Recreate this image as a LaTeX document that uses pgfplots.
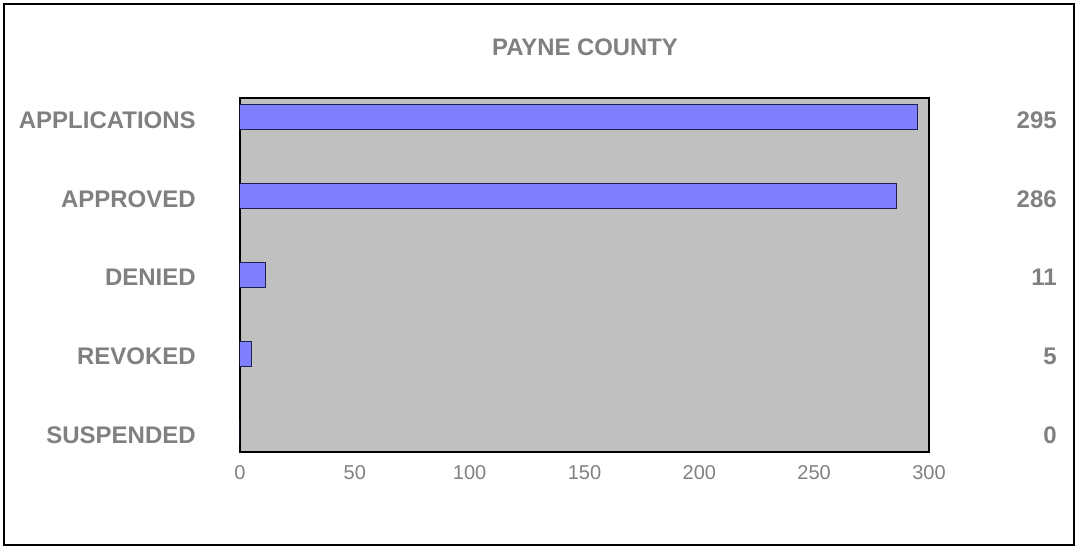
\documentclass[border=0pt]{standalone}
\usepackage{pgfplots}
\pgfplotsset{compat=1.18}
\usepackage{fontspec}
\setmainfont{Liberation Sans}
\definecolor{txtgray}{HTML}{808080}
\definecolor{plotbg}{HTML}{C0C0C0}
\definecolor{barfill}{HTML}{8080FF}
\definecolor{barline}{HTML}{202050}
\begin{document}
\begin{tikzpicture}
\path[use as bounding box] (0,0) rectangle (808.5pt,411pt);
\draw[line width=1.9pt] (3pt,2.25pt) rectangle (805.5pt,408pt);
\node[text=txtgray, font=\fontsize{17.9}{20}\selectfont\bfseries] at (438.75pt,375.9pt) {PAYNE COUNTY};
\begin{axis}[
  at={(180pt,72pt)}, anchor=south west,
  scale only axis, width=516.75pt, height=265.5pt,
  xbar, bar width=18.75pt,
  xmin=0, xmax=300,
  ymin=-0.247, ymax=4.247, y dir=reverse,
  ytick={0,1,2,3,4},
  yticklabels={APPLICATIONS,APPROVED,DENIED,REVOKED,SUSPENDED},
  xtick={0,50,100,150,200,250,300},
  major tick length=0pt,
  axis line style={line width=1pt},
  axis background/.style={fill=plotbg},
  /pgf/number format/assume math mode=true,
  yticklabel style={anchor=east, inner sep=0pt, xshift=-33pt, yshift=-2pt, text=txtgray, font=\fontsize{18}{20}\selectfont\bfseries},
  xticklabel style={anchor=center, inner sep=0pt, yshift=-15.4pt, text=txtgray, font=\fontsize{15}{17}\selectfont},
]
\addplot[fill=barfill, draw=barline, line width=0.75pt] coordinates {(295,0) (286,1) (11,2) (5,3) (0,4)};
\end{axis}
\begin{axis}[
  at={(180pt,72pt)}, anchor=south west,
  scale only axis, width=516.75pt, height=265.5pt,
  xmin=0, xmax=300,
  ymin=-0.247, ymax=4.247, y dir=reverse,
  hide x axis,
  axis y line*=right,
  axis line style={draw=none},
  ytick={0,1,2,3,4},
  yticklabels={295,286,11,5,0},
  major tick length=0pt,
  yticklabel style={anchor=east, inner sep=0pt, xshift=96pt, yshift=-2pt, text=txtgray, font=\fontsize{18}{20}\selectfont\bfseries},
]
\end{axis}
\end{tikzpicture}
\end{document}
